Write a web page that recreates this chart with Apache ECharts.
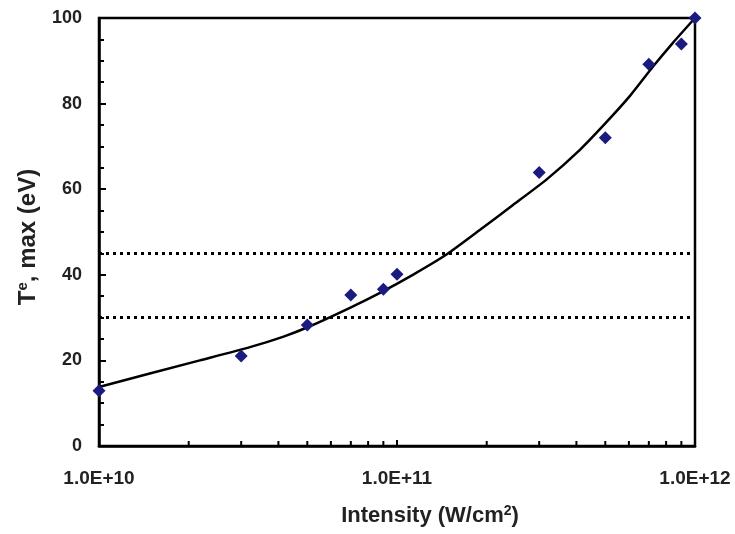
<!DOCTYPE html>
<html>
<head>
<meta charset="utf-8">
<script src="https://cdn.jsdelivr.net/npm/echarts@6/dist/echarts.min.js"></script>
<style>html,body{margin:0;padding:0;background:#fff}#c{width:735px;height:534px}</style>
</head>
<body>
<div id="c"></div>
<script>
// Measured points (intensity W/cm2, Te max eV)
const pointX = [1e10, 3e10, 5e10, 7e10, 9e10, 1e11, 3e11, 5e11, 7e11, 9e11, 1e12];
const pointY = [12.9, 21.0, 28.3, 35.3, 36.6, 40.1, 63.9, 72.0, 89.2, 93.9, 100];
// Fitted curve
const fitX = [1e10, 2.18e10, 3.21e10, 4.14e10, 5.03e10, 6.95e10, 8.77e10, 1.13e11, 1.47e11, 1.90e11, 2.45e11, 3.18e11, 4.11e11, 4.99e11, 6.05e11, 7.22e11, 8.43e11, 1e12];
const fitY = [13.8, 20.0, 23.1, 25.5, 27.8, 32.3, 35.8, 40.0, 44.8, 50.5, 56.3, 62.3, 69.2, 75.3, 81.8, 88.6, 94.2, 100];
// Threshold lines
const thresholds = [45, 30];
// Minor ticks on the log axis
const minorXTicks = [2e10,3e10,4e10,5e10,6e10,7e10,8e10,9e10,2e11,3e11,4e11,5e11,6e11,7e11,8e11,9e11];

const F = 'Liberation Sans, Arial, sans-serif';
const chart = echarts.init(document.getElementById('c'));
chart.setOption({
  animation: false,
  grid: {left: 99, right: 40, top: 18, bottom: 88, show: true, borderColor: '#000', borderWidth: 2.5, backgroundColor: 'transparent'},
  xAxis: {
    type: 'log', logBase: 10, min: 1e10, max: 1e12,
    axisLine: {lineStyle: {color: '#000', width: 2.5}},
    axisTick: {inside: true, length: 6, lineStyle: {color: '#000', width: 2}},
    splitLine: {show: false},
    axisLabel: {margin: 23, color: '#222', fontFamily: F, fontWeight: 'bold', fontSize: 19,
      formatter: v => Number(v).toExponential(1).toUpperCase()},
    name: '{n|Intensity (W/cm}{s|2}{n|)}',
    nameLocation: 'middle', nameGap: 58,
    nameTextStyle: {padding: [0, 0, 0, 66],
      rich: {n: {fontFamily: F, fontWeight: 'bold', fontSize: 22, color: '#222', height: 24},
             s: {fontFamily: F, fontWeight: 'bold', fontSize: 14, color: '#222', verticalAlign: 'top', height: 15}}}
  },
  yAxis: {
    type: 'value', min: 0, max: 100, interval: 20,
    axisLine: {show: true, lineStyle: {color: '#000', width: 2.5}},
    axisTick: {show: true, inside: true, length: 7, lineStyle: {color: '#000', width: 2}},
    minorTick: {show: true, splitNumber: 4, length: 5, lineStyle: {color: '#000', width: 2}},
    splitLine: {show: false},
    axisLabel: {margin: 17, color: '#222', fontFamily: F, fontWeight: 'bold', fontSize: 18},
    name: '{n|T}{s|e}{n|, max (eV)}',
    nameLocation: 'middle', nameGap: 58,
    nameTextStyle: {padding: [0, 10, 0, 0],
      rich: {n: {fontFamily: F, fontWeight: 'bold', fontSize: 24, color: '#222', height: 26},
             s: {fontFamily: F, fontWeight: 'bold', fontSize: 15, color: '#222', verticalAlign: 'top', height: 16}}}
  },
  series: [
    {
      type: 'line', data: fitX.map((x, i) => [x, fitY[i]]), smooth: 0.2, symbol: 'none',
      lineStyle: {color: '#000', width: 2.5}, z: 3,
      markLine: {
        silent: true, symbol: 'none', label: {show: false},
        lineStyle: {color: '#000', width: 3, type: [3, 4]},
        data: thresholds.map(t => ({yAxis: t}))
      }
    },
    {
      type: 'scatter', data: pointX.map((x, i) => [x, pointY[i]]), symbol: 'diamond', symbolSize: 13,
      itemStyle: {color: '#1a1a80', opacity: 1}, z: 4
    },
    {
      type: 'custom', data: minorXTicks.map(v => [v, 0]), clip: false, silent: true, z: 5,
      renderItem: function (params, api) {
        const p = api.coord([api.value(0), 0]);
        return {type: 'line', shape: {x1: p[0], y1: p[1], x2: p[0], y2: p[1] - 5},
          style: {stroke: '#000', lineWidth: 2}};
      }
    }
  ]
});
</script>
</body>
</html>
